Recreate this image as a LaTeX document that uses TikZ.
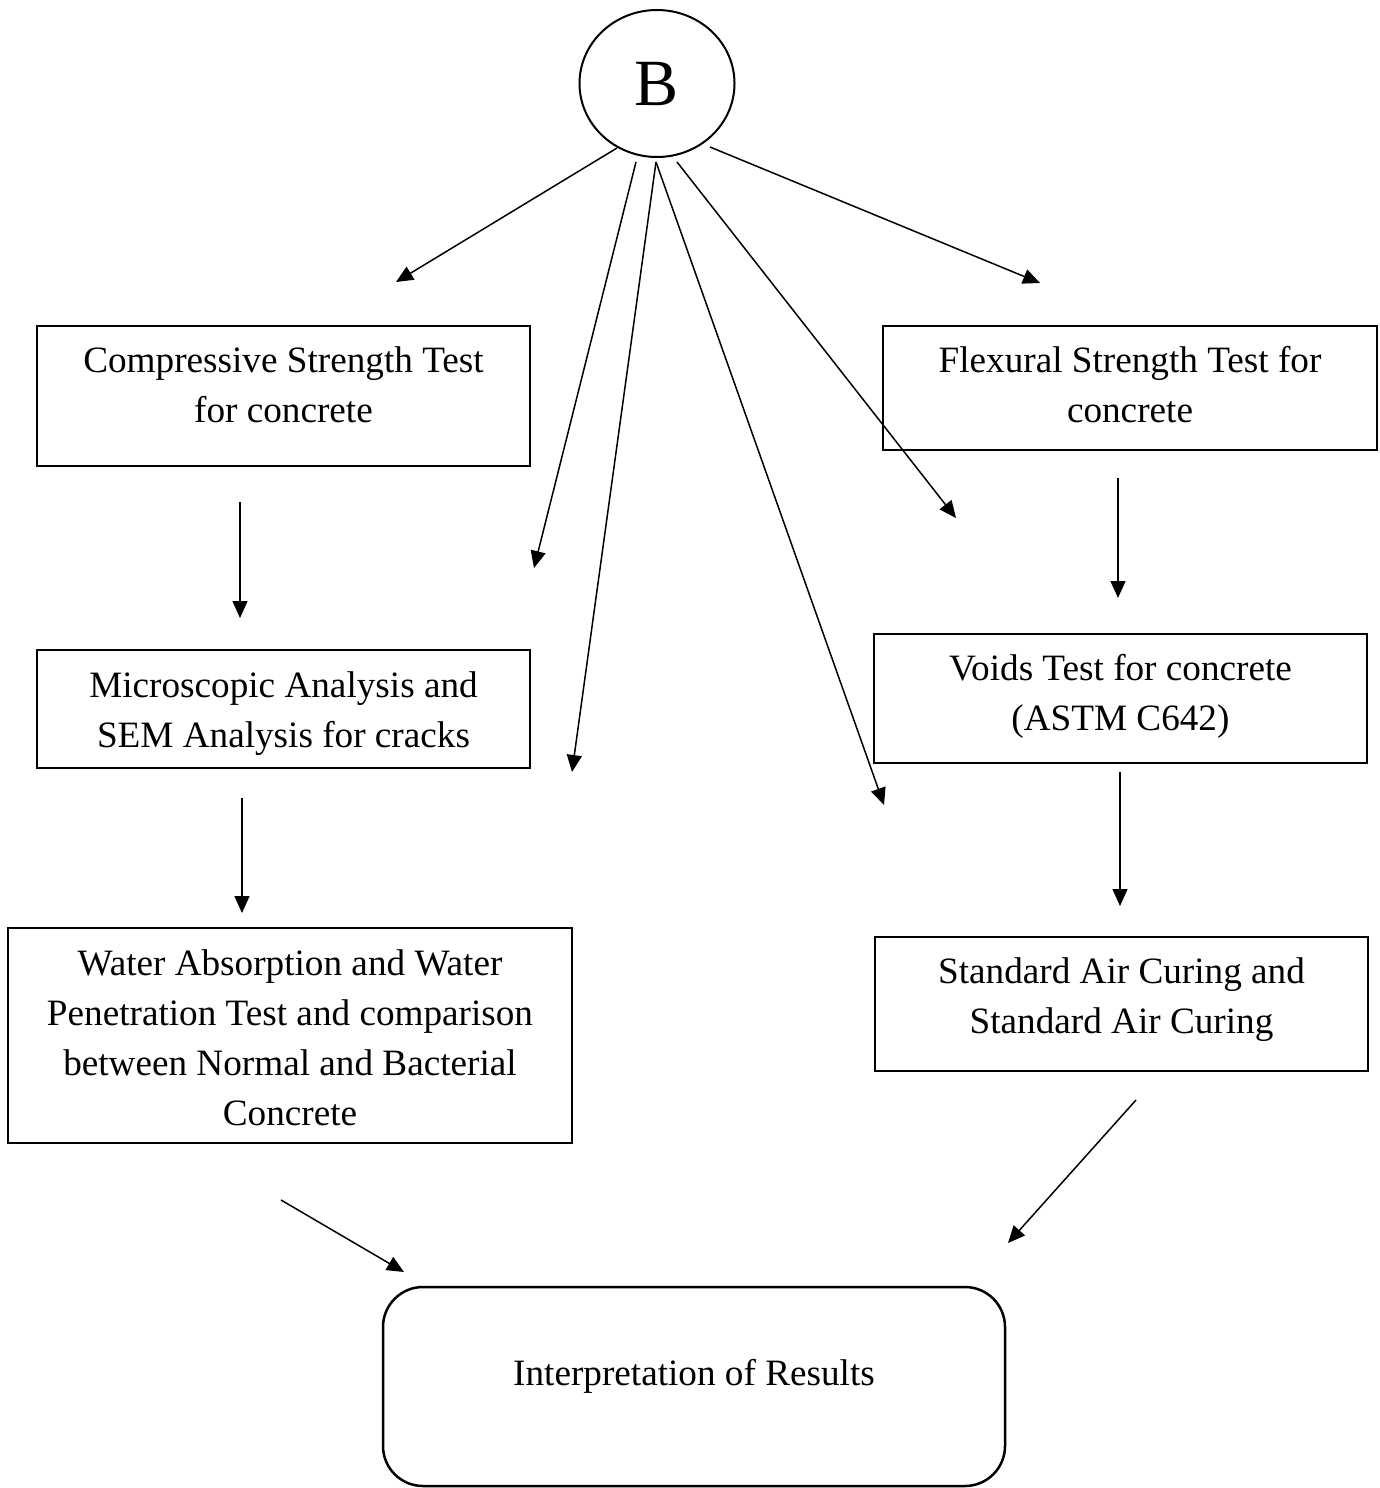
\documentclass[tikz,border=0pt]{standalone}
\usepackage{fontspec}
\setmainfont{Liberation Serif}
\usetikzlibrary{arrows.meta,shapes.geometric}
\begin{document}
\begin{tikzpicture}[x=0.5pt,y=-0.5pt,
  box/.style={draw,line width=1.25pt,rectangle,inner sep=0pt},
  txt/.style={align=center,font=\fontsize{18.6pt}{25pt}\selectfont,inner sep=0pt},
  arr/.style={line width=0.75pt,-{Triangle[length=8.5pt,width=7.5pt]}}]
\useasboundingbox (0,0) rectangle (1380,1488);
% B circle
\node[draw,ellipse,line width=1pt,minimum width=77.5pt,minimum height=73.5pt,inner sep=0pt,font=\fontsize{33pt}{36pt}\selectfont] (B) at (657,83.5) {\raisebox{-0.7pt}{B}};
% boxes
\node[box,minimum width=246.5pt,minimum height=70pt,label={[txt,yshift=5.5pt]center:Compressive Strength Test\\for concrete}] (cst) at (283.5,396) {};
\node[box,minimum width=247pt,minimum height=62pt,label={[txt,yshift=1.5pt]center:Flexural Strength Test for\\concrete}] (fst) at (1130,388) {};
\node[box,minimum width=246.5pt,minimum height=59pt,label={[txt,yshift=-2.5pt]center:Microscopic Analysis and\\SEM Analysis for cracks}] (mic) at (283.5,709) {};
\node[box,minimum width=246.5pt,minimum height=64.5pt,label={[txt,yshift=1pt]center:Voids Test for concrete\\(ASTM C642)}] (voi) at (1120.5,698.5) {};
\node[box,minimum width=282pt,minimum height=107.5pt,label={[txt,yshift=-1pt]center:Water Absorption and Water\\Penetration Test and comparison\\between Normal and Bacterial\\Concrete}] (wat) at (290,1035.5) {};
\node[box,minimum width=246.5pt,minimum height=67pt,label={[txt,yshift=2pt]center:Standard Air Curing and\\Standard Air Curing}] (sac) at (1121.5,1004) {};
\node[box,rounded corners=20pt,minimum width=311pt,minimum height=99.5pt,label={[txt,yshift=5pt]center:Interpretation of Results}] (int) at (694,1386.5) {};
% free ends
\coordinate (s1) at (617,148); \coordinate (e1) at (396,282);
\coordinate (s2) at (636,162); \coordinate (e2) at (534,568);
\coordinate (s3) at (656,162); \coordinate (e3) at (572,772);
\coordinate (s4) at (656,162); \coordinate (e4) at (884,805);
\coordinate (s5) at (677,162); \coordinate (e5) at (956,518);
\coordinate (s6) at (710,147); \coordinate (e6) at (1040,283);
\coordinate (v1s) at (240,502); \coordinate (v1e) at (240,618);
\coordinate (v2s) at (242,798); \coordinate (v2e) at (242,913);
\coordinate (v3s) at (1118,478); \coordinate (v3e) at (1118,598);
\coordinate (v4s) at (1120,772); \coordinate (v4e) at (1120,906);
\coordinate (d1s) at (281,1200); \coordinate (d1e) at (404,1272);
\coordinate (d2s) at (1136,1100); \coordinate (d2e) at (1008,1243);
\foreach \i in {1,...,6} {\draw[arr] (s\i) -- (e\i);}
\foreach \i in {1,...,4} {\draw[arr] (v\i s) -- (v\i e);}
\draw[arr] (d1s) -- (d1e);
\draw[arr] (d2s) -- (d2e);
\end{tikzpicture}
\end{document}
